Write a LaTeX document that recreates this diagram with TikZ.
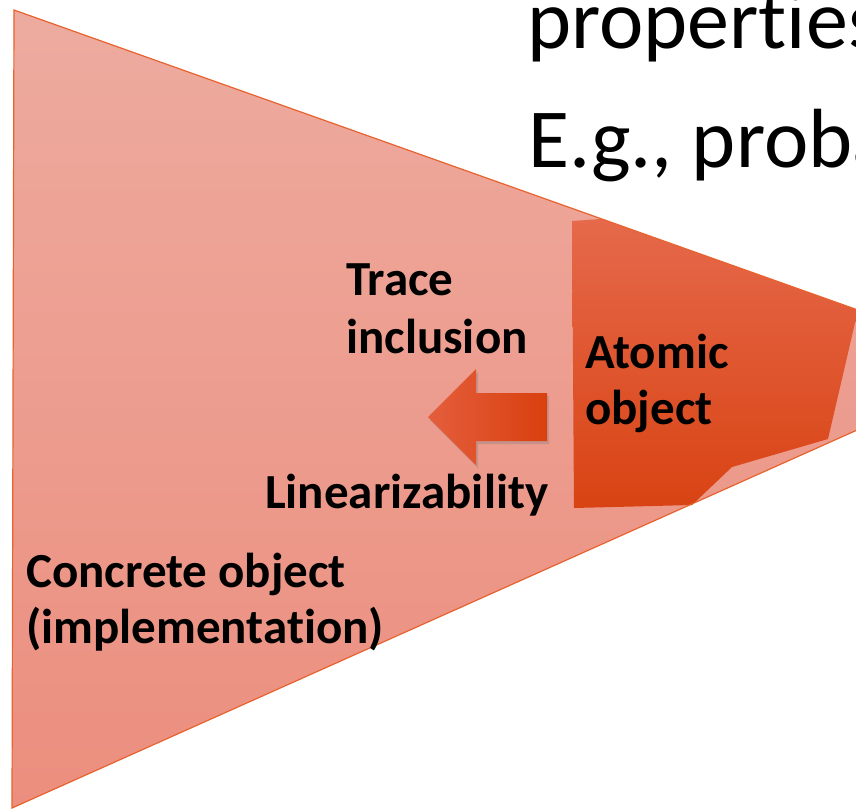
\documentclass[tikz,border=0pt]{standalone}
\usepackage{fontspec}
\setmainfont[Ligatures=NoCommon]{Carlito}
\usetikzlibrary{shadows}
\definecolor{triTop}{HTML}{EDAB9F}
\definecolor{triBot}{HTML}{EC8E7E}
\definecolor{triEdge}{HTML}{E8622E}
\definecolor{atomTop}{HTML}{E5694B}
\definecolor{atomMid}{HTML}{E44D1E}
\definecolor{atomBot}{HTML}{D94313}
\definecolor{arrLeft}{HTML}{E45E3C}
\definecolor{arrRight}{HTML}{D9400E}
\tikzset{
  biglabel/.style={anchor=base west, inner sep=0pt, font=\fontsize{84}{119}\selectfont, text=black},
  boldlabel/.style={anchor=base west, inner sep=0pt, font=\bfseries\fontsize{49}{57}\selectfont, text=black},
}
\begin{document}
\begin{tikzpicture}[x=1pt,y=-1pt]
\useasboundingbox (0,0) rectangle (856,809);
\begin{scope}
\clip (0,0) rectangle (856,809);
% concrete object triangle
\path[top color=triTop, bottom color=triBot] (14,10) -- (1007,363) -- (12,808) -- cycle;
% atomic object polygon
\path[top color=atomTop, middle color=atomMid, bottom color=atomBot]
  (572,221) -- (601,219) -- (858,310) -- (828,439) -- (732,467) -- (692,505) -- (574,508) -- cycle;
\draw[triEdge, line width=1.2pt] (14,10) -- (1007,363) -- (12,808) -- cycle;
% arrow
\path[left color=arrLeft, right color=arrRight,
      drop shadow={opacity=0.35, shadow xshift=2pt, shadow yshift=-3pt}]
  (428,417) -- (476,369) -- (476,393) -- (547,393) -- (547,441) -- (476,441) -- (476,465) -- cycle;
% top text
\node[biglabel] (props) at (527,48) {properties};
\node[biglabel] (eg) at (528,167) {E.g., proba};
\end{scope}
% labels
\node[boldlabel] (trace1) at (346,295) {Trace};
\node[boldlabel] (trace2) at (346,353) {inclusion};
\node[boldlabel] (atom1) at (585,368) {Atomic};
\node[boldlabel] (atom2) at (585,424) {object};
\node[boldlabel] (lin) at (265,508) {Linearizability};
\node[boldlabel] (conc1) at (26,587) {Concrete object};
\node[boldlabel] (conc2) at (26,643) {(implementation)};
\end{tikzpicture}
\end{document}
